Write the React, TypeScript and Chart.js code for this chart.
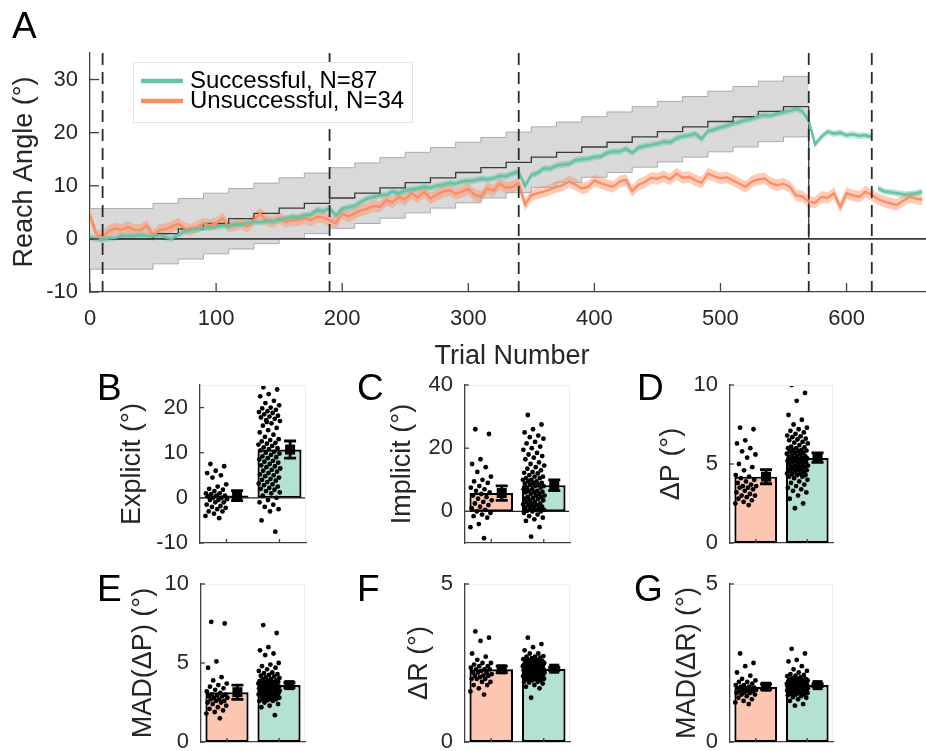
import React, { useEffect, useRef } from "react";
import { Chart, registerables } from "chart.js";

Chart.register(...registerables);

// ================= Panel A: reach angle across trials (sampled every 5 trials) =================
const trialStep = 5;
const successfulMean = [
  0.3, 0.0, -0.1, 0.1, 0.2, 0.5, 0.6, 0.5, 0.7, 0.6,
  0.5, 0.7, 0.3, 0.0, 0.8, 1.4, 1.7, 1.8, 2.1, 2.2,
  2.3, 2.5, 2.4, 2.8, 2.7, 3.0, 3.2, 3.1, 3.4, 3.3,
  3.6, 3.8, 4.1, 4.0, 4.4, 4.6, 5.5, 5.2, 5.8, 4.4,
  5.7, 5.9, 6.2, 7.0, 7.6, 7.9, 8.2, 8.3, 8.9, 8.6,
  9.1, 9.3, 9.5, 9.8, 9.6, 10.0, 10.2, 10.5, 10.4, 10.8,
  10.9, 11.0, 11.3, 11.2, 11.4, 11.9, 11.8, 12.3, 12.6, 10.0,
  12.0, 12.4, 13.3, 13.2, 13.8, 14.0, 14.1, 14.8, 15.0, 15.1,
  15.4, 15.5, 16.2, 16.5, 16.4, 17.0, 16.2, 17.2, 17.5, 17.7,
  17.9, 18.3, 18.2, 18.9, 19.3, 19.5, 19.8, 18.8, 20.3, 20.6,
  21.0, 21.3, 21.7, 22.0, 22.4, 22.6, 23.1, 23.3, 23.2, 23.6,
  23.9, 24.1, 24.5, 24.0, 22.3, 17.8, 19.2, 20.2, 19.8, 20.0,
  19.5, 19.7, 19.4, 19.5, 19.2, 9.5, 8.9, 8.8, 8.6, 8.4,
  8.3, 8.6, 8.9,
];
const unsuccessfulMean = [
  4.5, 0.8, 0.4, 1.5, 2.0, 1.7, 2.3, 1.7, 1.6, 2.5,
  0.6, 1.7, 1.8, 2.3, 2.9, 2.0, 1.7, 2.3, 2.9, 2.6,
  2.9, 3.9, 2.3, 2.6, 2.9, 2.3, 3.6, 4.8, 3.5, 3.2,
  3.9, 3.2, 3.5, 3.5, 3.9, 3.5, 4.2, 4.0, 3.5, 3.0,
  4.8, 4.2, 4.8, 5.4, 5.7, 6.2, 6.0, 7.3, 6.9, 7.9,
  7.4, 8.6, 7.8, 8.9, 7.6, 8.3, 8.9, 9.2, 8.5, 8.9,
  9.4, 8.3, 7.9, 9.5, 9.1, 10.4, 9.6, 9.8, 10.4, 6.5,
  8.2, 8.6, 8.9, 9.3, 9.8, 10.1, 10.8, 10.2, 9.5, 9.8,
  11.0, 10.5, 10.1, 9.8, 10.8, 11.1, 9.0, 10.2, 10.7, 11.5,
  11.3, 11.8, 11.2, 12.3, 11.5, 11.7, 11.0, 10.6, 12.3, 11.8,
  11.4, 11.6, 11.0, 10.4, 9.8, 10.8, 11.2, 11.4, 10.5, 10.1,
  10.4, 9.8, 8.2, 8.0, 7.0, 6.8, 7.9, 7.7, 8.6, 6.0,
  8.6, 8.2, 7.9, 8.9, 8.3, 7.5, 7.0, 6.7, 6.4, 7.2,
  7.9, 7.6, 7.4,
];
const successfulSem = 0.6;
const unsuccessfulSem = 1.1;
const rotationLevels = [
  0, 1.0, 1.9, 2.9, 3.8, 4.8, 5.8, 6.7, 7.7, 8.6,
  9.6, 10.6, 11.5, 12.5, 13.4, 14.4, 15.4, 16.3, 17.3, 18.2,
  19.2, 20.2, 21.1, 22.1, 23.0, 24.0, 24.9,
];
const rotationStartTrial = 50;
const rotationBlockTrials = 20;
const rotationEndTrial = 570;
const windowHalfWidth = 5.7;
const phaseBoundaries = [10, 190, 340, 570, 620];
const successfulBreakTrial = 620; // successful trace is interrupted at the last boundary
const trialMax = 663;
const trialTicks = [0, 100, 200, 300, 400, 500, 600];
const angleTicks = [-10, 0, 10, 20, 30];
const seriesLabels = ["Successful, N=87", "Unsuccessful, N=34"];

// ================= Panels B–G: individual values (unsuccessful N=34, successful N=87) =================
const explicitUnsuccessful = [7.5, 7.0, 6.0, 5.5, 5.0, 4.5, 3.0, 2.5, 2.0, 1.8, 1.5, 1.0, 1.0, 0.8, 0.5, 0.5, 0.3, 0.0, 0.0, -0.3, -0.5, -0.5, -1.0, -1.0, -1.5, -1.8, -2.0, -2.2, -2.5, -3.0, -3.0, -3.5, -4.0, -4.5];
const explicitSuccessful = [
  24.5, 24.0, 23.0, 22.5, 21.5, 21.0, 20.5, 20.0, 19.8, 19.5,
  19.2, 19.0, 18.8, 18.5, 18.2, 18.0, 17.8, 17.5, 17.2, 17.0,
  16.5, 16.0, 15.5, 15.0, 14.5, 14.0, 13.5, 13.0, 12.8, 12.5,
  12.2, 12.0, 11.8, 11.5, 11.2, 11.0, 10.8, 10.5, 10.2, 10.0,
  9.8, 9.5, 9.2, 9.0, 8.8, 8.5, 8.2, 8.0, 7.8, 7.5,
  7.2, 7.0, 6.8, 6.5, 6.2, 6.0, 5.8, 5.5, 5.2, 5.0,
  4.8, 4.5, 4.2, 4.0, 3.8, 3.5, 3.2, 3.0, 2.8, 2.5,
  2.2, 2.0, 1.8, 1.5, 1.2, 1.0, 0.5, 0.0, -0.5, -1.0,
  -1.5, -2.0, -2.5, -3.0, -5.0, -7.5, 16.8,
];
const explicitMeans = [0.5, 10.7];
const explicitSems = [1.1, 1.9];

const implicitUnsuccessful = [26.0, 24.5, 16.5, 15.0, 14.0, 12.5, 11.0, 10.0, 9.5, 9.0, 8.0, 7.5, 7.0, 6.5, 6.0, 5.5, 5.0, 4.5, 4.0, 3.5, 3.0, 2.5, 2.0, 1.5, 1.0, 0.5, 0.0, -0.5, -1.0, -1.5, -2.0, -4.0, -5.0, -8.5];
const implicitSuccessful = [
  30.5, 27.5, 26.0, 25.0, 24.0, 23.5, 23.0, 22.0, 21.5, 20.5,
  20.0, 19.5, 18.5, 18.0, 17.5, 17.0, 16.5, 15.5, 15.0, 14.5,
  14.0, 13.5, 13.0, 12.5, 12.2, 12.0, 11.5, 11.0, 11.0, 10.5,
  10.5, 10.0, 10.0, 9.5, 9.5, 9.0, 9.0, 8.8, 8.5, 8.5,
  8.0, 8.0, 7.5, 7.5, 7.0, 7.0, 6.5, 6.5, 6.2, 6.0,
  6.0, 5.5, 5.5, 5.0, 5.0, 4.5, 4.5, 4.2, 4.0, 4.0,
  3.5, 3.5, 3.0, 3.0, 2.5, 2.5, 2.2, 2.0, 2.0, 1.5,
  1.5, 1.2, 1.0, 1.0, 0.5, 0.5, 0.2, 0.0, 0.0, -0.5,
  -1.0, -1.5, -2.0, -2.5, -3.0, -5.0, -8.0,
];
const implicitMeans = [5.8, 8.3];
const implicitSems = [2.3, 1.7];

const deltaPUnsuccessful = [7.3, 7.2, 6.5, 6.3, 6.0, 5.8, 5.6, 5.4, 5.0, 4.8, 4.6, 4.3, 4.2, 4.1, 4.0, 3.9, 3.8, 3.7, 3.6, 3.6, 3.5, 3.5, 3.4, 3.3, 3.2, 3.1, 3.0, 3.0, 2.9, 2.8, 2.7, 2.6, 2.5, 2.4];
const deltaPSuccessful = [
  10.0, 9.5, 9.0, 8.1, 7.8, 7.5, 7.3, 7.2, 7.1, 7.0,
  6.9, 6.8, 6.75, 6.7, 6.6, 6.55, 6.5, 6.4, 6.35, 6.3,
  6.2, 6.1, 6.05, 6.0, 6.0, 5.9, 5.9, 5.85, 5.8, 5.8,
  5.7, 5.7, 5.65, 5.6, 5.6, 5.5, 5.5, 5.45, 5.4, 5.4,
  5.35, 5.3, 5.3, 5.25, 5.2, 5.2, 5.15, 5.1, 5.1, 5.0,
  5.0, 4.95, 4.9, 4.9, 4.85, 4.8, 4.8, 4.75, 4.7, 4.7,
  4.65, 4.6, 4.6, 4.55, 4.5, 4.5, 4.4, 4.4, 4.35, 4.3,
  4.3, 4.2, 4.2, 4.1, 4.0, 3.9, 3.8, 3.7, 3.6, 3.5,
  3.4, 3.3, 3.2, 3.0, 2.8, 2.5, 2.2,
];
const deltaPMeans = [4.2, 5.4];
const deltaPSems = [0.45, 0.3];

const madPUnsuccessful = [7.6, 7.5, 5.1, 4.7, 4.1, 3.9, 3.7, 3.6, 3.5, 3.4, 3.3, 3.2, 3.1, 3.0, 3.0, 2.95, 2.9, 2.9, 2.8, 2.8, 2.7, 2.7, 2.6, 2.6, 2.5, 2.5, 2.4, 2.3, 2.2, 2.1, 2.0, 1.9, 1.8, 1.5];
const madPSuccessful = [
  7.4, 6.9, 6.0, 5.8, 5.6, 5.5, 5.0, 4.9, 4.8, 4.7,
  4.6, 4.5, 4.4, 4.35, 4.3, 4.25, 4.2, 4.15, 4.1, 4.05,
  4.0, 4.0, 3.9, 3.9, 3.85, 3.8, 3.8, 3.8, 3.75, 3.72,
  3.7, 3.7, 3.7, 3.65, 3.62, 3.6, 3.6, 3.6, 3.55, 3.52,
  3.5, 3.5, 3.5, 3.45, 3.42, 3.4, 3.4, 3.4, 3.35, 3.32,
  3.3, 3.3, 3.3, 3.25, 3.22, 3.2, 3.2, 3.2, 3.15, 3.12,
  3.1, 3.1, 3.1, 3.05, 3.02, 3.0, 3.0, 3.0, 2.95, 2.9,
  2.9, 2.9, 2.85, 2.8, 2.8, 2.75, 2.7, 2.7, 2.65, 2.6,
  2.6, 2.5, 2.4, 2.3, 2.2, 1.7, 3.82,
];
const madPMeans = [3.15, 3.6];
const madPSems = [0.45, 0.15];

const deltaRUnsuccessful = [3.5, 3.3, 3.2, 2.8, 2.7, 2.6, 2.5, 2.5, 2.45, 2.4, 2.4, 2.35, 2.3, 2.3, 2.3, 2.25, 2.2, 2.2, 2.2, 2.15, 2.1, 2.1, 2.1, 2.05, 2.0, 2.0, 2.0, 1.9, 1.9, 1.8, 1.8, 1.7, 1.6, 1.5];
const deltaRSuccessful = [
  3.3, 3.1, 3.0, 2.9, 2.8, 2.8, 2.72, 2.7, 2.7, 2.67,
  2.65, 2.62, 2.6, 2.6, 2.57, 2.55, 2.55, 2.53, 2.52, 2.5,
  2.5, 2.5, 2.48, 2.47, 2.45, 2.45, 2.45, 2.43, 2.42, 2.4,
  2.4, 2.4, 2.4, 2.38, 2.37, 2.35, 2.35, 2.35, 2.33, 2.32,
  2.3, 2.3, 2.3, 2.3, 2.28, 2.27, 2.25, 2.25, 2.25, 2.23,
  2.22, 2.2, 2.2, 2.2, 2.2, 2.18, 2.17, 2.15, 2.15, 2.15,
  2.13, 2.12, 2.1, 2.1, 2.1, 2.1, 2.08, 2.07, 2.05, 2.05,
  2.05, 2.03, 2.02, 2.0, 2.0, 2.0, 1.98, 1.95, 1.95, 1.9,
  1.9, 1.88, 1.85, 1.8, 1.75, 1.7, 1.4,
];
const deltaRMeans = [2.3, 2.32];
const deltaRSems = [0.1, 0.05];

const madRUnsuccessful = [2.8, 2.5, 2.4, 2.2, 2.1, 2.0, 1.95, 1.9, 1.9, 1.85, 1.8, 1.8, 1.75, 1.75, 1.72, 1.7, 1.7, 1.68, 1.65, 1.65, 1.62, 1.6, 1.6, 1.58, 1.55, 1.55, 1.5, 1.5, 1.45, 1.4, 1.35, 1.3, 1.25, 1.2];
const madRSuccessful = [
  2.95, 2.8, 2.6, 2.55, 2.4, 2.3, 2.25, 2.2, 2.15, 2.12,
  2.1, 2.08, 2.05, 2.02, 2.0, 2.0, 1.98, 1.96, 1.95, 1.95,
  1.93, 1.92, 1.9, 1.9, 1.9, 1.89, 1.88, 1.87, 1.86, 1.85,
  1.85, 1.85, 1.84, 1.83, 1.82, 1.82, 1.81, 1.8, 1.8, 1.8,
  1.8, 1.79, 1.78, 1.77, 1.76, 1.76, 1.75, 1.75, 1.75, 1.75,
  1.74, 1.73, 1.72, 1.71, 1.7, 1.7, 1.7, 1.7, 1.69, 1.68,
  1.67, 1.66, 1.65, 1.65, 1.65, 1.64, 1.63, 1.62, 1.61, 1.6,
  1.6, 1.6, 1.58, 1.56, 1.55, 1.55, 1.52, 1.5, 1.5, 1.48,
  1.45, 1.42, 1.4, 1.35, 1.3, 1.2, 1.15,
];
const madRMeans = [1.75, 1.8];
const madRSems = [0.08, 0.05];

// ================= Styles =================
const FONT = '"Liberation Sans", Arial, Helvetica, sans-serif';
const AXIS = "#404040";
const TEXT = "#262626";
const GREEN = "#66c2a5";
const ORANGE = "#fc8d62";
const GREEN_BAND = "rgba(102,194,165,0.45)";
const ORANGE_BAND = "rgba(252,141,98,0.45)";
const GREEN_BAR = "#b3e1d2";
const ORANGE_BAR = "#fdc6b0";

function axis(min: number, max: number, vals: number[], size: number, labels: boolean, pad: number) {
  return {
    type: "linear",
    min,
    max,
    offset: false,
    afterBuildTicks: (s: any) => {
      s.ticks = vals.map((v) => ({ value: v }));
    },
    afterFit: (s: any) => {
      if (s.isHorizontal()) s.height = size;
      else s.width = size;
    },
    grid: { display: false, drawTicks: false, offset: false },
    border: { display: true, color: AXIS, width: 1.3 },
    ticks: {
      display: labels,
      padding: pad,
      color: TEXT,
      autoSkip: false,
      maxRotation: 0,
      font: { family: FONT, size: 22 },
    },
  };
}

function inwardTicks(chart: any, xv: number[], yv: number[], len: number) {
  const { ctx, chartArea: a, scales } = chart;
  ctx.save();
  ctx.strokeStyle = AXIS;
  ctx.lineWidth = 1.3;
  ctx.setLineDash([]);
  xv.forEach((v) => {
    const p = scales.x.getPixelForValue(v);
    ctx.beginPath();
    ctx.moveTo(p, a.bottom);
    ctx.lineTo(p, a.bottom - len);
    ctx.stroke();
  });
  yv.forEach((v) => {
    const p = scales.y.getPixelForValue(v);
    ctx.beginPath();
    ctx.moveTo(a.left, p);
    ctx.lineTo(a.left + len, p);
    ctx.stroke();
  });
  ctx.restore();
}

function text(ctx: any, s: string, x: number, y: number, size: number, color: string, rotated = false, align = "left") {
  ctx.save();
  ctx.font = `${size}px ${FONT}`;
  ctx.fillStyle = color;
  ctx.textBaseline = "alphabetic";
  ctx.textAlign = align;
  if (rotated) {
    ctx.translate(x, y);
    ctx.rotate(-Math.PI / 2);
    ctx.fillText(s, 0, 0);
  } else {
    ctx.fillText(s, x, y);
  }
  ctx.restore();
}

function makePanelA() {
  const trials = successfulMean.map((_, i) => i * trialStep);
  const series = (arr: number[], off: number, from = 0, to = Infinity) =>
    arr
      .map((v, i) => ({ x: trials[i], y: v + off }))
      .filter((p) => p.x >= from && p.x <= to);
  const stair = (off: number) => {
    const p = rotationLevels.map((lv, k) => ({
      x: k === 0 ? 0 : rotationStartTrial + (k - 1) * rotationBlockTrials,
      y: lv + off,
    }));
    p.push({ x: rotationEndTrial, y: rotationLevels[rotationLevels.length - 1] + off });
    return p;
  };
  const middle = stair(0);
  middle.push({ x: rotationEndTrial, y: 0 });
  const base = { pointRadius: 0, tension: 0, fill: false, borderWidth: 0, borderColor: "rgba(0,0,0,0)" };
  const b = successfulBreakTrial;
  return {
    type: "line",
    data: {
      datasets: [
        { ...base, data: series(successfulMean, 0, 0, b), borderColor: GREEN, borderWidth: 2.5 },
        { ...base, data: series(successfulMean, 0, b + 1), borderColor: GREEN, borderWidth: 2.5 },
        { ...base, data: series(successfulMean, successfulSem, 0, b), fill: "+1", backgroundColor: GREEN_BAND },
        { ...base, data: series(successfulMean, -successfulSem, 0, b) },
        { ...base, data: series(successfulMean, successfulSem, b + 1), fill: "+1", backgroundColor: GREEN_BAND },
        { ...base, data: series(successfulMean, -successfulSem, b + 1) },
        { ...base, data: series(unsuccessfulMean, 0), borderColor: ORANGE, borderWidth: 2.3 },
        { ...base, data: series(unsuccessfulMean, unsuccessfulSem), fill: "+1", backgroundColor: ORANGE_BAND },
        { ...base, data: series(unsuccessfulMean, -unsuccessfulSem) },
        { ...base, data: middle, stepped: "before", borderColor: "#3a3a3a", borderWidth: 1.3 },
        { ...base, data: [{ x: 0, y: 0 }, { x: trialMax, y: 0 }], borderColor: "#3a3a3a", borderWidth: 1.6 },
        { ...base, data: stair(windowHalfWidth), stepped: "before", fill: "+1", backgroundColor: "#d9d9d9", borderColor: "#ababab", borderWidth: 1 },
        { ...base, data: stair(-windowHalfWidth), stepped: "before", borderColor: "#ababab", borderWidth: 1 },
      ],
    },
    options: {
      responsive: false,
      animation: false,
      devicePixelRatio: 1,
      events: [],
      layout: { padding: { left: 0, top: 53, right: 0, bottom: 0 } },
      plugins: {
        legend: { display: false },
        tooltip: { enabled: false },
        filler: { drawTime: "beforeDatasetsDraw" },
      },
      scales: {
        x: axis(0, trialMax, trialTicks, 380 - 292, true, 14),
        y: axis(-10, 35, angleTicks, 90, true, 12),
      },
    },
    plugins: [
      {
        id: "panelA",
        afterDatasetsDraw(chart: any) {
          const { ctx, chartArea: a, scales } = chart;
          ctx.save();
          ctx.strokeStyle = "#2a2a2a";
          ctx.lineWidth = 1.8;
          ctx.setLineDash([12, 7]);
          phaseBoundaries.forEach((t) => {
            const px = scales.x.getPixelForValue(t);
            ctx.beginPath();
            ctx.moveTo(px, a.top);
            ctx.lineTo(px, a.bottom);
            ctx.stroke();
          });
          ctx.restore();
        },
        afterDraw(chart: any) {
          const ctx = chart.ctx;
          inwardTicks(chart, trialTicks, angleTicks, 9);
          // legend
          ctx.save();
          ctx.fillStyle = "#fff";
          ctx.fillRect(133, 62, 279, 60);
          ctx.strokeStyle = "#e4e4e4";
          ctx.lineWidth = 1;
          ctx.strokeRect(133.5, 62.5, 279, 60);
          [GREEN, ORANGE].forEach((col, i) => {
            const y = 81 + i * 20;
            ctx.strokeStyle = col;
            ctx.lineWidth = 4.5;
            ctx.beginPath();
            ctx.moveTo(141, y);
            ctx.lineTo(183, y);
            ctx.stroke();
          });
          ctx.restore();
          seriesLabels.forEach((s, i) => text(ctx, s, 190, 88 + i * 20, 24, "#000"));
          text(ctx, "Reach Angle (°)", 32, 172, 27, TEXT, true, "center");
          text(ctx, "Trial Number", 512, 364, 27, TEXT, false, "center");
          text(ctx, "A", 12, 38, 37, "#000");
        },
      },
    ],
  };
}

type BarPanel = {
  letter: string;
  letterPos: [number, number];
  title: string;
  titleX: number;
  titleY: number;
  groups: [number[], number[]];
  means: number[];
  sems: number[];
  yMin: number;
  yMax: number;
  yTicks: number[];
  area: [number, number, number, number];
  canvas: [number, number, number, number];
};

const barPanels: BarPanel[] = [
  { letter: "B", letterPos: [97, 400], title: "Explicit (°)", titleX: 140, titleY: 464, groups: [explicitUnsuccessful, explicitSuccessful], means: explicitMeans, sems: explicitSems, yMin: -10, yMax: 25, yTicks: [-10, 0, 10, 20], area: [200, 385, 306, 543], canvas: [90, 350, 250, 228] },
  { letter: "C", letterPos: [357, 400], title: "Implicit (°)", titleX: 410, titleY: 464, groups: [implicitUnsuccessful, implicitSuccessful], means: implicitMeans, sems: implicitSems, yMin: -10, yMax: 40, yTicks: [0, 20, 40], area: [465, 385, 570, 543], canvas: [350, 350, 250, 228] },
  { letter: "D", letterPos: [637, 400], title: "ΔP (°)", titleX: 679, titleY: 464, groups: [deltaPUnsuccessful, deltaPSuccessful], means: deltaPMeans, sems: deltaPSems, yMin: 0, yMax: 10, yTicks: [0, 5, 10], area: [730, 385, 833, 543], canvas: [630, 350, 260, 228] },
  { letter: "E", letterPos: [97, 601], title: "MAD(ΔP) (°)", titleX: 151, titleY: 663, groups: [madPUnsuccessful, madPSuccessful], means: madPMeans, sems: madPSems, yMin: 0, yMax: 10, yTicks: [0, 5, 10], area: [201, 584, 305, 742], canvas: [90, 549, 250, 228] },
  { letter: "F", letterPos: [357, 601], title: "ΔR (°)", titleX: 427, titleY: 663, groups: [deltaRUnsuccessful, deltaRSuccessful], means: deltaRMeans, sems: deltaRSems, yMin: 0, yMax: 5, yTicks: [0, 5], area: [465, 584, 570, 742], canvas: [350, 549, 250, 228] },
  { letter: "G", letterPos: [634, 601], title: "MAD(ΔR) (°)", titleX: 695, titleY: 663, groups: [madRUnsuccessful, madRSuccessful], means: madRMeans, sems: madRSems, yMin: 0, yMax: 5, yTicks: [0, 5], area: [730, 584, 833, 742], canvas: [630, 549, 260, 228] },
];

const groupCenters = [0.5, 1.5];
const errOffset = 0.2;

function makeBarPanel(p: BarPanel) {
  const [cl, ct, cw, ch] = p.canvas;
  const [al, at, ar, ab] = p.area;
  const frac = (v: number) => v - Math.floor(v);
  const dots = (vals: number[], c: number) =>
    vals.map((v, i) => ({ x: c - 0.4 + 0.42 * frac(i * 0.618034 + 0.23), y: v }));
  return {
    type: "bar",
    data: {
      datasets: [
        {
          type: "scatter",
          data: [...dots(p.groups[0], groupCenters[0]), ...dots(p.groups[1], groupCenters[1])],
          pointRadius: 2.4,
          backgroundColor: "#000",
          borderWidth: 0,
          order: 0,
        },
        {
          type: "bar",
          data: groupCenters.map((c, i) => ({ x: c, y: p.means[i] })),
          backgroundColor: [ORANGE_BAR, GREEN_BAR],
          borderColor: "#000",
          borderWidth: 2.2,
          borderSkipped: false,
          barPercentage: 0.83,
          categoryPercentage: 1,
          order: 1,
        },
      ],
    },
    options: {
      responsive: false,
      animation: false,
      devicePixelRatio: 1,
      events: [],
      layout: { padding: { left: 0, top: at - ct, right: cl + cw - ar, bottom: 0 } },
      plugins: { legend: { display: false }, tooltip: { enabled: false } },
      scales: {
        x: axis(0, 2, groupCenters, ct + ch - ab, false, 0),
        y: axis(p.yMin, p.yMax, p.yTicks, al - cl, true, 12),
      },
    },
    plugins: [
      {
        id: "barDecor",
        beforeDatasetsDraw(chart: any) {
          if (p.yMin >= 0) return;
          const { ctx, chartArea: a, scales } = chart;
          const y0 = scales.y.getPixelForValue(0);
          ctx.save();
          ctx.strokeStyle = TEXT;
          ctx.lineWidth = 1.4;
          ctx.beginPath();
          ctx.moveTo(a.left, y0);
          ctx.lineTo(a.right, y0);
          ctx.stroke();
          ctx.restore();
        },
        afterDatasetsDraw(chart: any) {
          const { ctx, scales } = chart;
          ctx.save();
          ctx.strokeStyle = "#000";
          ctx.fillStyle = "#000";
          ctx.lineWidth = 2.8;
          groupCenters.forEach((c, i) => {
            const px = scales.x.getPixelForValue(c + errOffset);
            const pm = scales.y.getPixelForValue(p.means[i]);
            const pt = scales.y.getPixelForValue(p.means[i] + p.sems[i]);
            const pb = scales.y.getPixelForValue(p.means[i] - p.sems[i]);
            ctx.beginPath();
            ctx.moveTo(px, pt);
            ctx.lineTo(px, pb);
            ctx.moveTo(px - 6, pt);
            ctx.lineTo(px + 6, pt);
            ctx.moveTo(px - 6, pb);
            ctx.lineTo(px + 6, pb);
            ctx.stroke();
            ctx.fillRect(px - 5, pm - 5, 10, 10);
          });
          ctx.restore();
        },
        afterDraw(chart: any) {
          const { ctx, chartArea: a } = chart;
          ctx.save();
          ctx.strokeStyle = "#ededed";
          ctx.lineWidth = 1;
          ctx.beginPath();
          ctx.moveTo(a.left + 1, a.top + 0.5);
          ctx.lineTo(a.right - 0.5, a.top + 0.5);
          ctx.lineTo(a.right - 0.5, a.bottom - 1);
          ctx.stroke();
          ctx.restore();
          inwardTicks(chart, groupCenters, p.yTicks, 4);
          text(ctx, p.title, p.titleX - cl, p.titleY - ct, 27, TEXT, true, "center");
          text(ctx, p.letter, p.letterPos[0] - cl, p.letterPos[1] - ct, 37, "#000");
        },
      },
    ],
  };
}

function ChartBox({ left, top, width, height, make }: { left: number; top: number; width: number; height: number; make: () => any }) {
  const ref = useRef<HTMLCanvasElement | null>(null);
  useEffect(() => {
    const chart = new Chart(ref.current as HTMLCanvasElement, make());
    return () => chart.destroy();
  }, []);
  return (
    <canvas
      ref={ref}
      width={width}
      height={height}
      style={{ position: "absolute", left, top, width, height, display: "block" }}
    />
  );
}

export default function App() {
  return (
    <div style={{ position: "absolute", left: 0, top: 0, width: 926, height: 751, overflow: "hidden", background: "#fff" }}>
      <ChartBox left={0} top={0} width={926} height={380} make={makePanelA} />
      {barPanels.map((p) => (
        <ChartBox key={p.letter} left={p.canvas[0]} top={p.canvas[1]} width={p.canvas[2]} height={p.canvas[3]} make={() => makeBarPanel(p)} />
      ))}
    </div>
  );
}
